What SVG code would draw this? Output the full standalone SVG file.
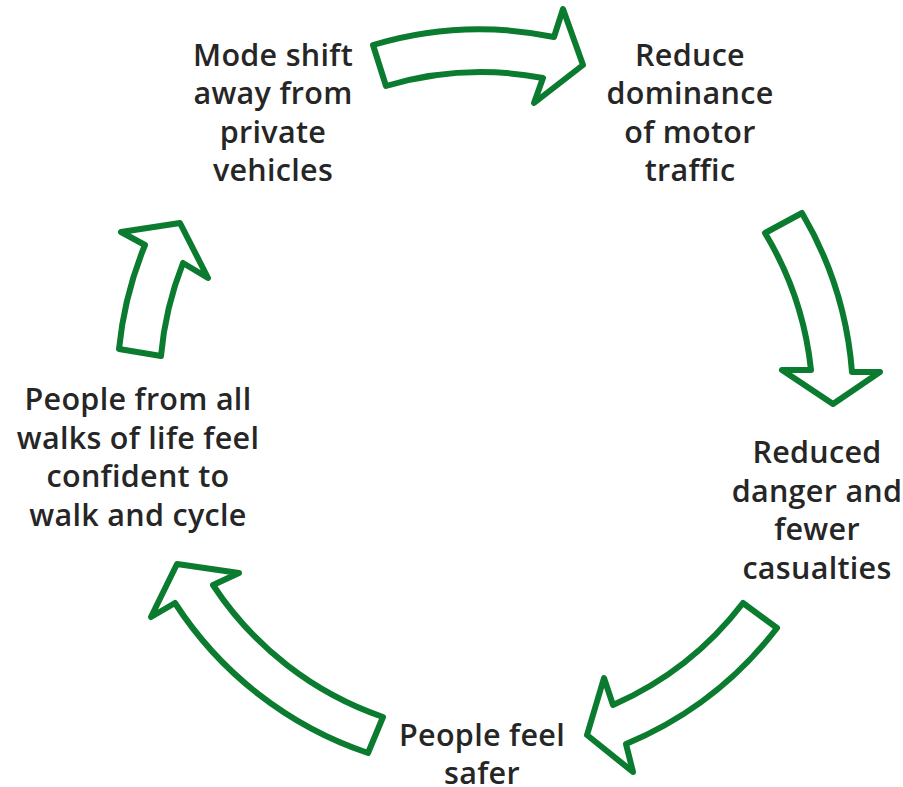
<svg xmlns="http://www.w3.org/2000/svg" width="903" height="787" viewBox="0 0 903 787">
  <style>
    .arrow { fill: #ffffff; stroke: #0b7b30; stroke-width: 6; stroke-linejoin: round; }
    .label { font-family: "Open Sans", "Liberation Sans", sans-serif; font-size: 30.5px; font-weight: 600; letter-spacing: 0.3px; fill: #262626; text-anchor: middle; }
  </style>
  <rect width="903" height="787" fill="#ffffff"/>

  <!-- Cycle connectors: curved block arrows running clockwise -->
  <g id="connectors">
    <path class="arrow" d="M386,86 L373,45 A370,370 0 0 1 554,37 L563,9 L583,65 L534,103 L543,78 A332,332 0 0 0 386,86 Z"/>
    <path class="arrow" d="M765,233 L802,213 A370,370 0 0 1 852,372 L880,372 L833,404 L782,370 L811,370 A332,332 0 0 0 765,233 Z"/>
    <path class="arrow" d="M743,603 L777,628 A370,370 0 0 1 626,744 L633,772 L587,735 L604,678 L613,705 A332,332 0 0 0 743,603 Z"/>
    <path class="arrow" d="M383,717 L368,753 A370,370 0 0 1 175,603 L151,617 L177,564 L239,573 L213,585 A332,332 0 0 0 383,717 Z"/>
    <path class="arrow" d="M161,356 L119,349 A370,370 0 0 1 145,245 L121,232 L180,223 L208,278 L183,263 A332,332 0 0 0 161,356 Z"/>
  </g>

  <g id="mode-shift">
    <text class="label" x="273" y="65.5">Mode shift</text>
    <text class="label" x="273" y="104">away from</text>
    <text class="label" x="273" y="142.5">private</text>
    <text class="label" x="273" y="181">vehicles</text>
  </g>

  <g id="reduce-dominance">
    <text class="label" x="690" y="65.5">Reduce</text>
    <text class="label" x="690" y="104">dominance</text>
    <text class="label" x="690" y="142.5">of motor</text>
    <text class="label" x="690" y="181">traffic</text>
  </g>

  <g id="reduced-danger">
    <text class="label" x="817" y="463">Reduced</text>
    <text class="label" x="817" y="501.5">danger and</text>
    <text class="label" x="817" y="540">fewer</text>
    <text class="label" x="817" y="578.5">casualties</text>
  </g>

  <g id="people-feel-safer">
    <text class="label" x="482" y="745.5">People feel</text>
    <text class="label" x="482" y="784">safer</text>
  </g>

  <g id="walk-and-cycle">
    <text class="label" x="138" y="410">People from all</text>
    <text class="label" x="138" y="448.5">walks of life feel</text>
    <text class="label" x="138" y="487">confident to</text>
    <text class="label" x="138" y="525.5">walk and cycle</text>
  </g>
</svg>
